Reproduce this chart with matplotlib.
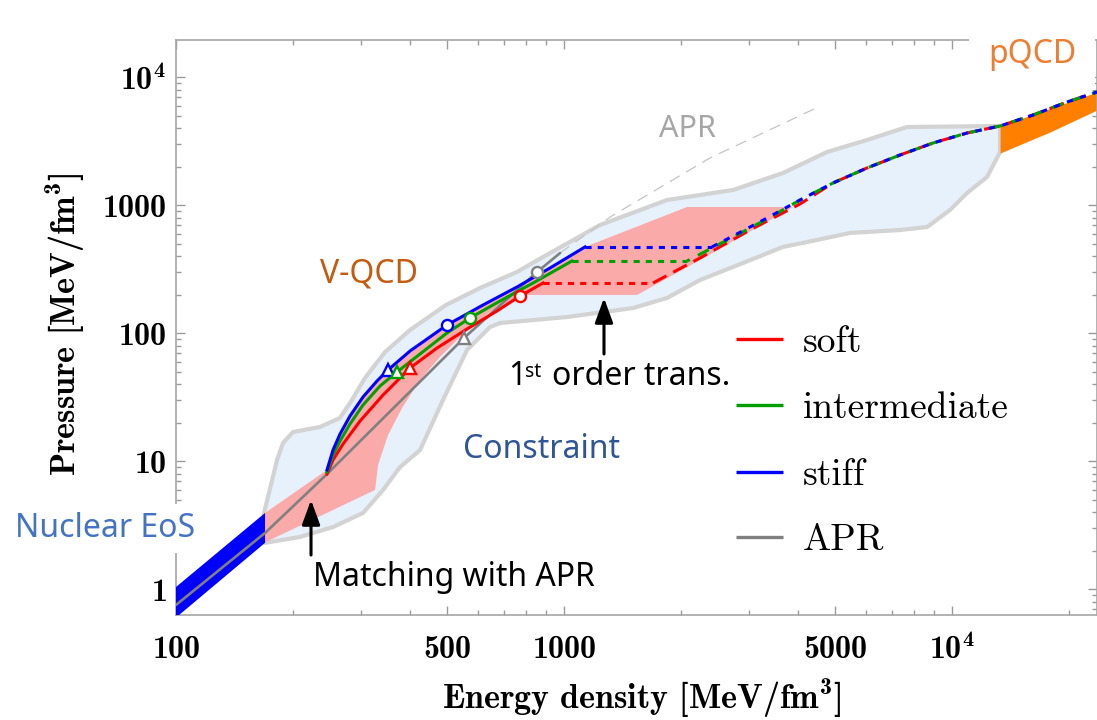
import matplotlib
matplotlib.use("Agg")
import matplotlib.pyplot as plt
from matplotlib.patches import Polygon
from matplotlib.ticker import FixedLocator, FixedFormatter, LogLocator, NullFormatter

# Bold Computer Modern for tick and axis labels
plt.rcParams['mathtext.fontset'] = 'custom'
plt.rcParams['mathtext.rm'] = 'cmb10'
plt.rcParams['mathtext.bf'] = 'cmb10'
plt.rcParams['mathtext.it'] = 'cmb10'
plt.rcParams['axes.unicode_minus'] = False

# All values: energy density e and pressure p in MeV/fm^3

# Nuclear EoS uncertainty band at low density
nuclear_e = [100.0, 169.6, 169.6, 100.0]
nuclear_p = [1.04, 3.94, 2.30, 0.60]

# APR equation of state (solid part and its extrapolation)
apr_e = [100.0, 169.6, 243.6, 552.4, 852.2, 977.0]
apr_p = [0.753, 2.75, 7.8, 91.7, 300.7, 423.0]
apr_ext_e = [977.0, 1315.0, 2377.0, 4521.0]
apr_ext_p = [423.0, 809.0, 2338.0, 5850.0]

# Region allowed by the constraints (closed outline)
constraint_e = [168.6, 182.1, 188.7, 200.3, 235.0, 264.7, 284.2, 307.0, 345.8, 401.0,
                496.4, 607.5, 756.5, 883.0, 1238, 1843, 2727, 3667, 4762, 6037,
                7656, 13300, 13300, 12310, 10930, 9881, 8621, 7345, 5459, 4488,
                3667, 2893, 2241, 1843, 1506, 1018, 684.2, 644.8, 562.3, 487.7,
                425.5, 377.9, 341.7, 303.4, 253.9, 208.7, 169.6]
constraint_p = [3.94, 10.2, 13.9, 16.9, 18.5, 21.8, 30.1, 44.7, 71.3, 105.9,
                166.1, 225.5, 300.7, 393.9, 700, 1098, 1315, 1784, 2604, 3232,
                4082, 4157, 2604, 1661, 1245, 917, 675, 640, 607, 535,
                472, 353.6, 260.3, 188.4, 157.3, 133.8, 120.1, 111.8, 73.9, 30.1,
                12.2, 9.0, 5.96, 3.94, 3.06, 2.56, 2.30]

# V-QCD hybrid models: hadronic branch up to the transition
stiff_e = [245.0, 253.9, 264.7, 280.8, 303.4, 329.6, 351.9, 401.0, 499.3, 618.5, 756.5, 920.2, 1133]
stiff_p = [8.54, 12.23, 16.31, 22.54, 31.74, 42.32, 51.6, 72.6, 115.9, 166.1, 229.6, 323.1, 472.0]
inter_e = [245.0, 253.9, 264.7, 280.8, 303.4, 335.6, 371.2, 425.5, 499.3, 572.4, 684.2, 832.2, 1048]
inter_p = [8.23, 11.18, 14.38, 19.53, 27.49, 38.68, 49.77, 68.8, 100.4, 131.5, 178.5, 246.7, 366.5]
soft_e = [245.0, 253.9, 269.5, 298.1, 341.7, 401.0, 470.7, 562.3, 671.9, 770.1, 883.0]
soft_p = [7.94, 10.22, 13.63, 20.61, 32.9, 53.5, 76.6, 107.8, 149.1, 195.3, 246.7]

# First-order transition plateaus (constant pressure)
stiff_jump_e = [1133, 2406]
inter_jump_e = [1048, 2075]
soft_jump_e = [883.0, 1696]

# Quark-matter branches after the transition
stiff_q_e = [2406, 2727, 3336]
stiff_q_p = [472.0, 574.7, 794.0]
inter_q_e = [2075, 2727, 3336]
inter_q_p = [366.5, 564.5, 780.0]
soft_q_e = [1696, 2241, 3016, 4058]
soft_q_p = [246.7, 386.8, 640.0, 1022.0]
common_e = [4058, 4935, 6037, 7345, 8933, 10930, 13300, 16180, 19790, 23640]
common_p = [1098, 1491, 1953, 2467, 3061, 3665, 4157, 5067, 6401, 7662]

# Spread of V-QCD models (polygon edge beyond the stiff branch)
vqcd_edge_e = [2075, 3892, 2241, 1543, 802.7, 644.8, 545.9, 479.1, 425.5, 382.4, 351.9, 331.7, 325.8, 168.6]
vqcd_edge_p = [968, 968, 373, 199, 199, 146.4, 96.8, 65.2, 43.1, 26.0, 16.0, 9.34, 5.96, 2.30]

# pQCD band
pqcd_e = [13300, 17890, 23640]
pqcd_lo = [2557, 3731, 5543]
pqcd_hi = [4157, 5693, 7662]

# Special points on each branch: triangles and circles (stiff, intermediate, soft, APR)
tri_e = [351.9, 371.2, 401.0, 552.4]
tri_p = [51.6, 49.77, 53.5, 91.7]
circ_e = [499.3, 572.4, 770.1, 852.2]
circ_p = [115.9, 131.5, 195.3, 300.7]

x_ticks = [100, 500, 1000, 5000, 1e4]
x_labels = ['100', '500', '1000', '5000', '10^4']
y_ticks = [1, 10, 100, 1000, 1e4]
y_labels = ['1', '10', '100', '1000', '10^4']

legend_names = ['soft', 'intermediate', 'stiff', 'APR']

RED, GREEN, BLUE, GRAY = '#FF0000', '#00A000', '#0000FF', '#808080'
colors = [BLUE, GREEN, RED, GRAY]

fig = plt.figure(figsize=(10.97, 7.2), dpi=100)
ax = fig.add_axes([176 / 1097, 1 - 615 / 720, 921 / 1097, 575 / 720])
ax.set_xscale('log')
ax.set_yscale('log')
ax.set_xlim(100, 23640)
ax.set_ylim(0.6285, 19530)

# Allowed region
ax.add_patch(Polygon(list(zip(constraint_e, constraint_p)), closed=True,
                     facecolor='#E6F1FC', edgecolor='#D3D3D3', lw=3,
                     joinstyle='round', zorder=1))

# V-QCD spread
band_pts = [(nuclear_e[1], nuclear_p[1])] + list(zip(stiff_e, stiff_p)) + list(zip(vqcd_edge_e, vqcd_edge_p))
ax.add_patch(Polygon(band_pts, closed=True, facecolor='#FBAAAA', edgecolor='none', zorder=1.5))

# Nuclear EoS and pQCD bands
ax.fill(nuclear_e, nuclear_p, color=BLUE, lw=0, zorder=3)
ax.fill_between(pqcd_e, pqcd_lo, pqcd_hi, color='#FF8000', lw=0, zorder=2)

# APR
ax.plot(apr_ext_e, apr_ext_p, color='#C4C4C4', lw=0.9, ls=(0, (9, 6)), zorder=1.8)
ax.plot(apr_e, apr_p, color=GRAY, lw=1.9, zorder=4, solid_capstyle='round')

# Hadronic branches
lw = 2.2
ax.plot(soft_e, soft_p, color=RED, lw=lw, zorder=5)
ax.plot(inter_e, inter_p, color=GREEN, lw=lw, zorder=5)
ax.plot(stiff_e, stiff_p, color=BLUE, lw=lw, zorder=5)

# Plateaus
ax.plot(soft_jump_e, [soft_p[-1]] * 2, color=RED, lw=lw, ls=(0, (2, 2)), zorder=5)
ax.plot(inter_jump_e, [inter_p[-1]] * 2, color=GREEN, lw=lw, ls=(0, (2, 2)), zorder=5)
ax.plot(stiff_jump_e, [stiff_p[-1]] * 2, color=BLUE, lw=lw, ls=(0, (2, 2)), zorder=5)

# Quark branches, merging at high density
ax.plot(soft_q_e + common_e[1:], soft_q_p + common_p[1:], color=RED, lw=lw,
        ls=(0, (5, 2.5)), zorder=5)
ax.plot(inter_q_e + common_e, inter_q_p + common_p, color=GREEN, lw=lw,
        ls=(3, (4, 3)), zorder=5.1)
ax.plot(stiff_q_e + common_e, stiff_q_p + common_p, color=BLUE, lw=lw,
        ls=(0, (2, 2.5)), zorder=5.2)

# Special points
for e, p, c in zip(tri_e, tri_p, colors):
    ax.plot([e], [p], marker='^', ms=8.5, mfc='white', mec=c, mew=1.7, zorder=6, ls='none')
for e, p, c in zip(circ_e, circ_p, colors):
    ax.plot([e], [p], marker='o', ms=8, mfc='white', mec=c, mew=1.7, zorder=6, ls='none')

# Axes styling
ax.xaxis.set_major_locator(FixedLocator(x_ticks))
ax.xaxis.set_major_formatter(FixedFormatter([r'$%s$' % s for s in x_labels]))
ax.yaxis.set_major_locator(FixedLocator(y_ticks))
ax.yaxis.set_major_formatter(FixedFormatter([r'$%s$' % s for s in y_labels]))
for axis in (ax.xaxis, ax.yaxis):
    axis.set_minor_locator(LogLocator(base=10, subs=range(2, 10), numticks=30))
    axis.set_minor_formatter(NullFormatter())
ax.tick_params(which='both', direction='in', top=True, right=True, color='#9A9A9A', width=1)
ax.tick_params(which='major', length=6.5)
ax.tick_params(which='minor', length=3.8)
ax.tick_params(axis='x', which='major', pad=14, labelsize=23)
ax.tick_params(axis='y', which='major', pad=7, labelsize=23)
for s in ax.spines.values():
    s.set_color('#A6A6A6')
    s.set_linewidth(1.2)

ax.set_xlabel(r'Energy density [MeV/fm$^3$]', family='cmb10', fontsize=24.5)
ax.set_ylabel(r'Pressure [MeV/fm$^3$]', family='cmb10', fontsize=24.5)
ax.xaxis.label.set_va('baseline')
ax.yaxis.label.set_va('baseline')
ax.xaxis.set_label_coords(0.5057, -0.1635)
ax.yaxis.set_label_coords(-0.1086, 0.506)

# Legend
leg_y = [0.480, 0.3652, 0.2487, 0.1357]
for name, c, y in zip(legend_names, [RED, GREEN, BLUE, GRAY], leg_y):
    ax.plot([0.608, 0.659], [y, y], color=c, lw=2.4, transform=ax.transAxes, zorder=7,
            solid_capstyle='butt')
    ax.text(0.681, y, name, transform=ax.transAxes, family='cmr10', fontsize=27,
            va='center_baseline', ha='left', zorder=7)

# Annotations
sans = 'Noto Sans'
tw = 'light'
ax.text(0.1564, 0.5791, 'V-QCD', transform=ax.transAxes, family=sans, weight=tw, fontsize=23,
        color='#C55A11', ha='left', va='baseline')
ax.text(0.8817, 0.960, 'pQCD', transform=ax.transAxes, family=sans, weight=tw, fontsize=23,
        color='#ED7D31', ha='left', va='baseline', zorder=10,
        bbox=dict(boxstyle='square,pad=0.6', fc='white', ec='none'))
ax.text(0.5244, 0.8313, 'APR', transform=ax.transAxes, family=sans, weight=tw, fontsize=22,
        color='#A6A6A6', ha='left', va='baseline')
ax.text(0.3116, 0.273, 'Constraint', transform=ax.transAxes, family=sans, weight=tw, fontsize=23,
        color='#2F5597', ha='left', va='baseline')
ax.text(-0.1748, 0.1357, 'Nuclear EoS', transform=ax.transAxes, family=sans, weight=tw,
        fontsize=23, color='#4472C4', ha='left', va='baseline', zorder=10,
        bbox=dict(boxstyle='square,pad=0.25', fc='white', ec='none'))
ax.text(0.1488, 0.0504, 'Matching with APR', transform=ax.transAxes, family=sans, weight=tw,
        fontsize=23, color='black', ha='left', va='baseline')
ax.text(0.3605, 0.400, '1', transform=ax.transAxes, family=sans, weight=tw, fontsize=23,
        ha='left', va='baseline')
ax.text(0.3789, 0.4139, 'st', transform=ax.transAxes, family=sans, weight=tw, fontsize=14,
        ha='left', va='baseline')
ax.text(0.4083, 0.400, 'order trans.', transform=ax.transAxes, family=sans, weight=tw,
        fontsize=23, ha='left', va='baseline')

arrow = dict(arrowstyle='-|>,head_length=0.6,head_width=0.22', color='black', lw=2.2,
             mutation_scale=25, shrinkA=0, shrinkB=0)
ax.annotate('', xy=(0.1466, 0.200), xytext=(0.1466, 0.1043),
            xycoords='axes fraction', textcoords='axes fraction', arrowprops=arrow, zorder=8)
ax.annotate('', xy=(0.4647, 0.5513), xytext=(0.4647, 0.4539),
            xycoords='axes fraction', textcoords='axes fraction', arrowprops=arrow, zorder=8)

fig.savefig('out.png', dpi=100)
